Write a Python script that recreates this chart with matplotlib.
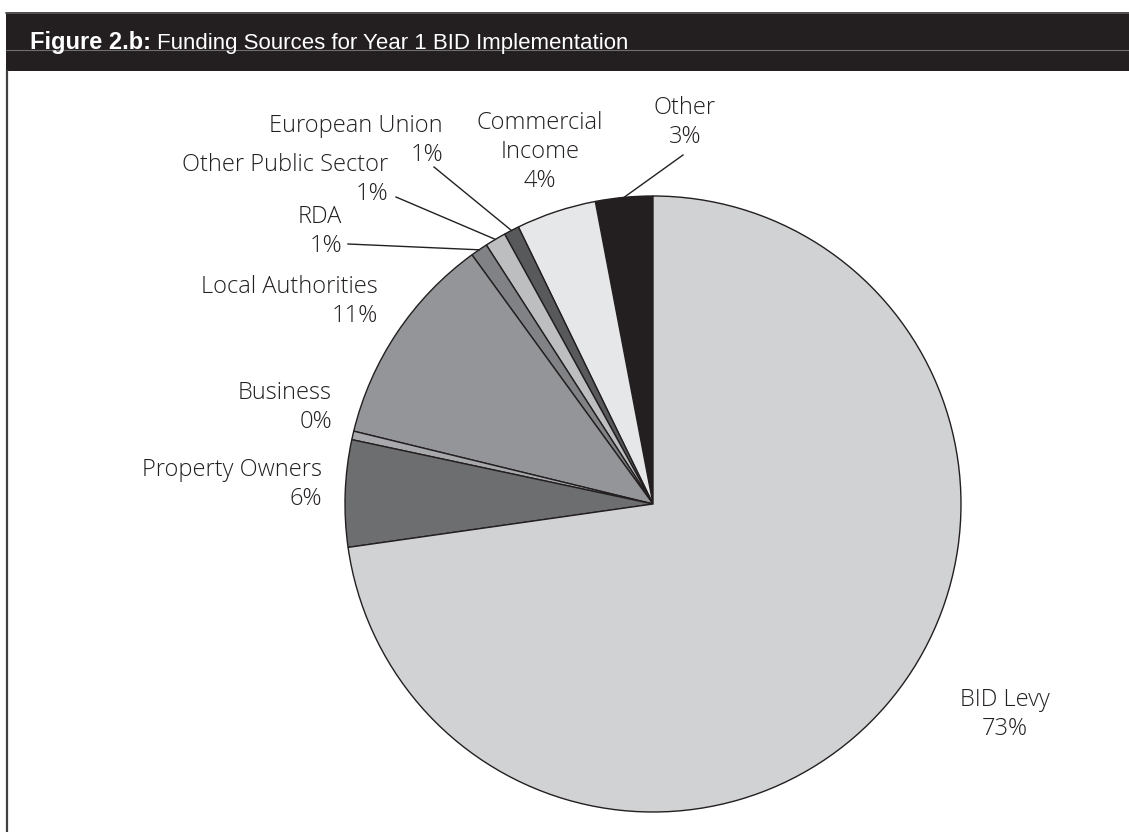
import matplotlib.pyplot as plt
from matplotlib.patches import Rectangle
import numpy as np

plt.rcParams['font.family'] = ['Liberation Sans', 'DejaVu Sans']

# funding shares (%), counter-clockwise from 12 o'clock
sources = ['Other', 'Commercial\nIncome', 'European Union', 'Other Public Sector', 'RDA',
           'Local Authorities', 'Business', 'Property Owners', 'BID Levy']
shares = [3.0, 4.2, 0.8, 1.1, 0.9, 11.2, 0.45, 5.6, 72.75]
colours = ['#231f20', '#e6e7e8', '#58595b', '#bcbec0', '#808285',
           '#939598', '#a7a9ac', '#6d6e70', '#d1d2d4']

W, H = 1129, 832
fig = plt.figure(figsize=(W / 100, H / 100), dpi=100)
ax = fig.add_axes([0, 0, 1, 1])

def Y(y):
    # page-style y (from top) to axes y
    return H - y

cx, cy, R = 653, Y(504), 308
wedges, _ = ax.pie(shares, colors=colours, startangle=90, counterclock=True,
                   center=(cx, cy), radius=R, frame=True,
                   wedgeprops=dict(edgecolor='#231f20', linewidth=1.0))
ax.set_xlim(0, W)
ax.set_ylim(0, H)
ax.set_aspect('equal')
ax.axis('off')

# header bar and frame
ax.add_patch(Rectangle((6, Y(71)), W - 6, 59, facecolor='#231f20', edgecolor='none', zorder=3))
ax.plot([6, W], [Y(12.5), Y(12.5)], color='#5a5a5a', lw=1.2, zorder=4)
ax.plot([6, W], [Y(49.5), Y(49.5)], color='#6d6e70', lw=0.8, zorder=4)
ax.plot([6.5, 6.5], [Y(71), 0], color='#414042', lw=1.6, zorder=4)

# title: bold lead-in, then the rest
t1 = ax.text(30, Y(49), 'Figure 2.b:', color='white', fontsize=17,
             fontweight='bold', va='baseline', ha='left', zorder=5)
fig.canvas.draw()
bb = t1.get_window_extent()
ax.text(bb.x1 + 6, Y(49), 'Funding Sources for Year 1 BID Implementation',
        color='white', fontsize=16, va='baseline', ha='left', zorder=5)

# label anchors: (x, first line y from top, ha)
label_pos = [
    (685, 108, 'center'),
    (540, 123, 'center'),
    (443, 126, 'right'),
    (388, 165, 'right'),
    (342, 217, 'right'),
    (378, 287, 'right'),
    (332, 393, 'right'),
    (322, 470, 'right'),
    (1005, 700, 'center'),
]
step = 29
for name, v, (x, y, ha) in zip(sources, shares, label_pos):
    lines = name.split('\n') + [f'{v:.0f}%']
    for k, line in enumerate(lines):
        ax.text(x, Y(y + k * step), line, ha=ha, va='center', fontsize=17,
                family=['Open Sans', 'Liberation Sans'], fontweight='light',
                color='#231f20')

# leader lines from the label to the middle of its slice
leaders = {0: (683, 155), 2: (434, 167), 3: (396, 197), 4: (348, 244)}
for i, (lx, ly) in leaders.items():
    w = wedges[i]
    mid = np.deg2rad((w.theta1 + w.theta2) / 2)
    ax.plot([lx, cx + R * np.cos(mid)], [Y(ly), cy + R * np.sin(mid)],
            color='#231f20', lw=1.0)

fig.savefig('out.png', dpi=100)
